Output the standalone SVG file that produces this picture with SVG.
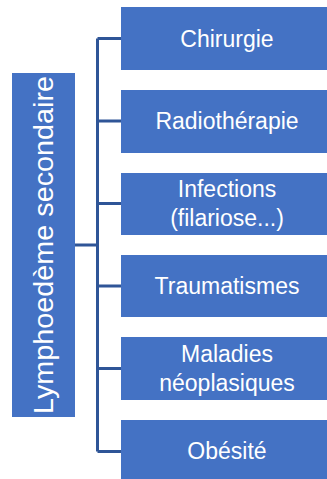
<svg xmlns="http://www.w3.org/2000/svg" width="327" height="479" viewBox="0 0 327 479">
<style>
.box{fill:#4472C4;}
.t{fill:#ffffff;font-family:"Liberation Sans",Arial,sans-serif;font-size:23px;text-anchor:middle;}
.big{font-size:28px;}
.ln{stroke:#2F5597;stroke-width:3;fill:none;}
</style>
<rect width="327" height="479" fill="#ffffff"/>
<g id="connectors">
<path class="ln" d="M75 245H97.5M97.5 38.5V451.5M97.5 38.5H121M97.5 121H121M97.5 203.5H121M97.5 286H121M97.5 368.5H121M97.5 451.5H121"/>
</g>
<g id="root">
<rect class="box" x="12" y="73" width="63" height="344"/>
<text class="t big" transform="translate(53,245) rotate(-90)" textLength="338" lengthAdjust="spacingAndGlyphs">Lymphoedème secondaire</text>
</g>
<g id="n1">
<rect class="box" x="121" y="7" width="212" height="63"/>
<text class="t" x="227" y="47">Chirurgie</text>
</g>
<g id="n2">
<rect class="box" x="121" y="90" width="212" height="63"/>
<text class="t" x="227" y="129">Radiothérapie</text>
</g>
<g id="n3">
<rect class="box" x="121" y="173" width="212" height="62"/>
<text class="t" x="227" y="197">Infections</text>
<text class="t" x="227" y="226">(filariose...)</text>
</g>
<g id="n4">
<rect class="box" x="121" y="255" width="212" height="62"/>
<text class="t" x="227" y="294">Traumatismes</text>
</g>
<g id="n5">
<rect class="box" x="121" y="337" width="212" height="63"/>
<text class="t" x="227" y="362">Maladies</text>
<text class="t" x="227" y="391">néoplasiques</text>
</g>
<g id="n6">
<rect class="box" x="121" y="420" width="212" height="63"/>
<text class="t" x="227" y="459">Obésité</text>
</g>
</svg>
